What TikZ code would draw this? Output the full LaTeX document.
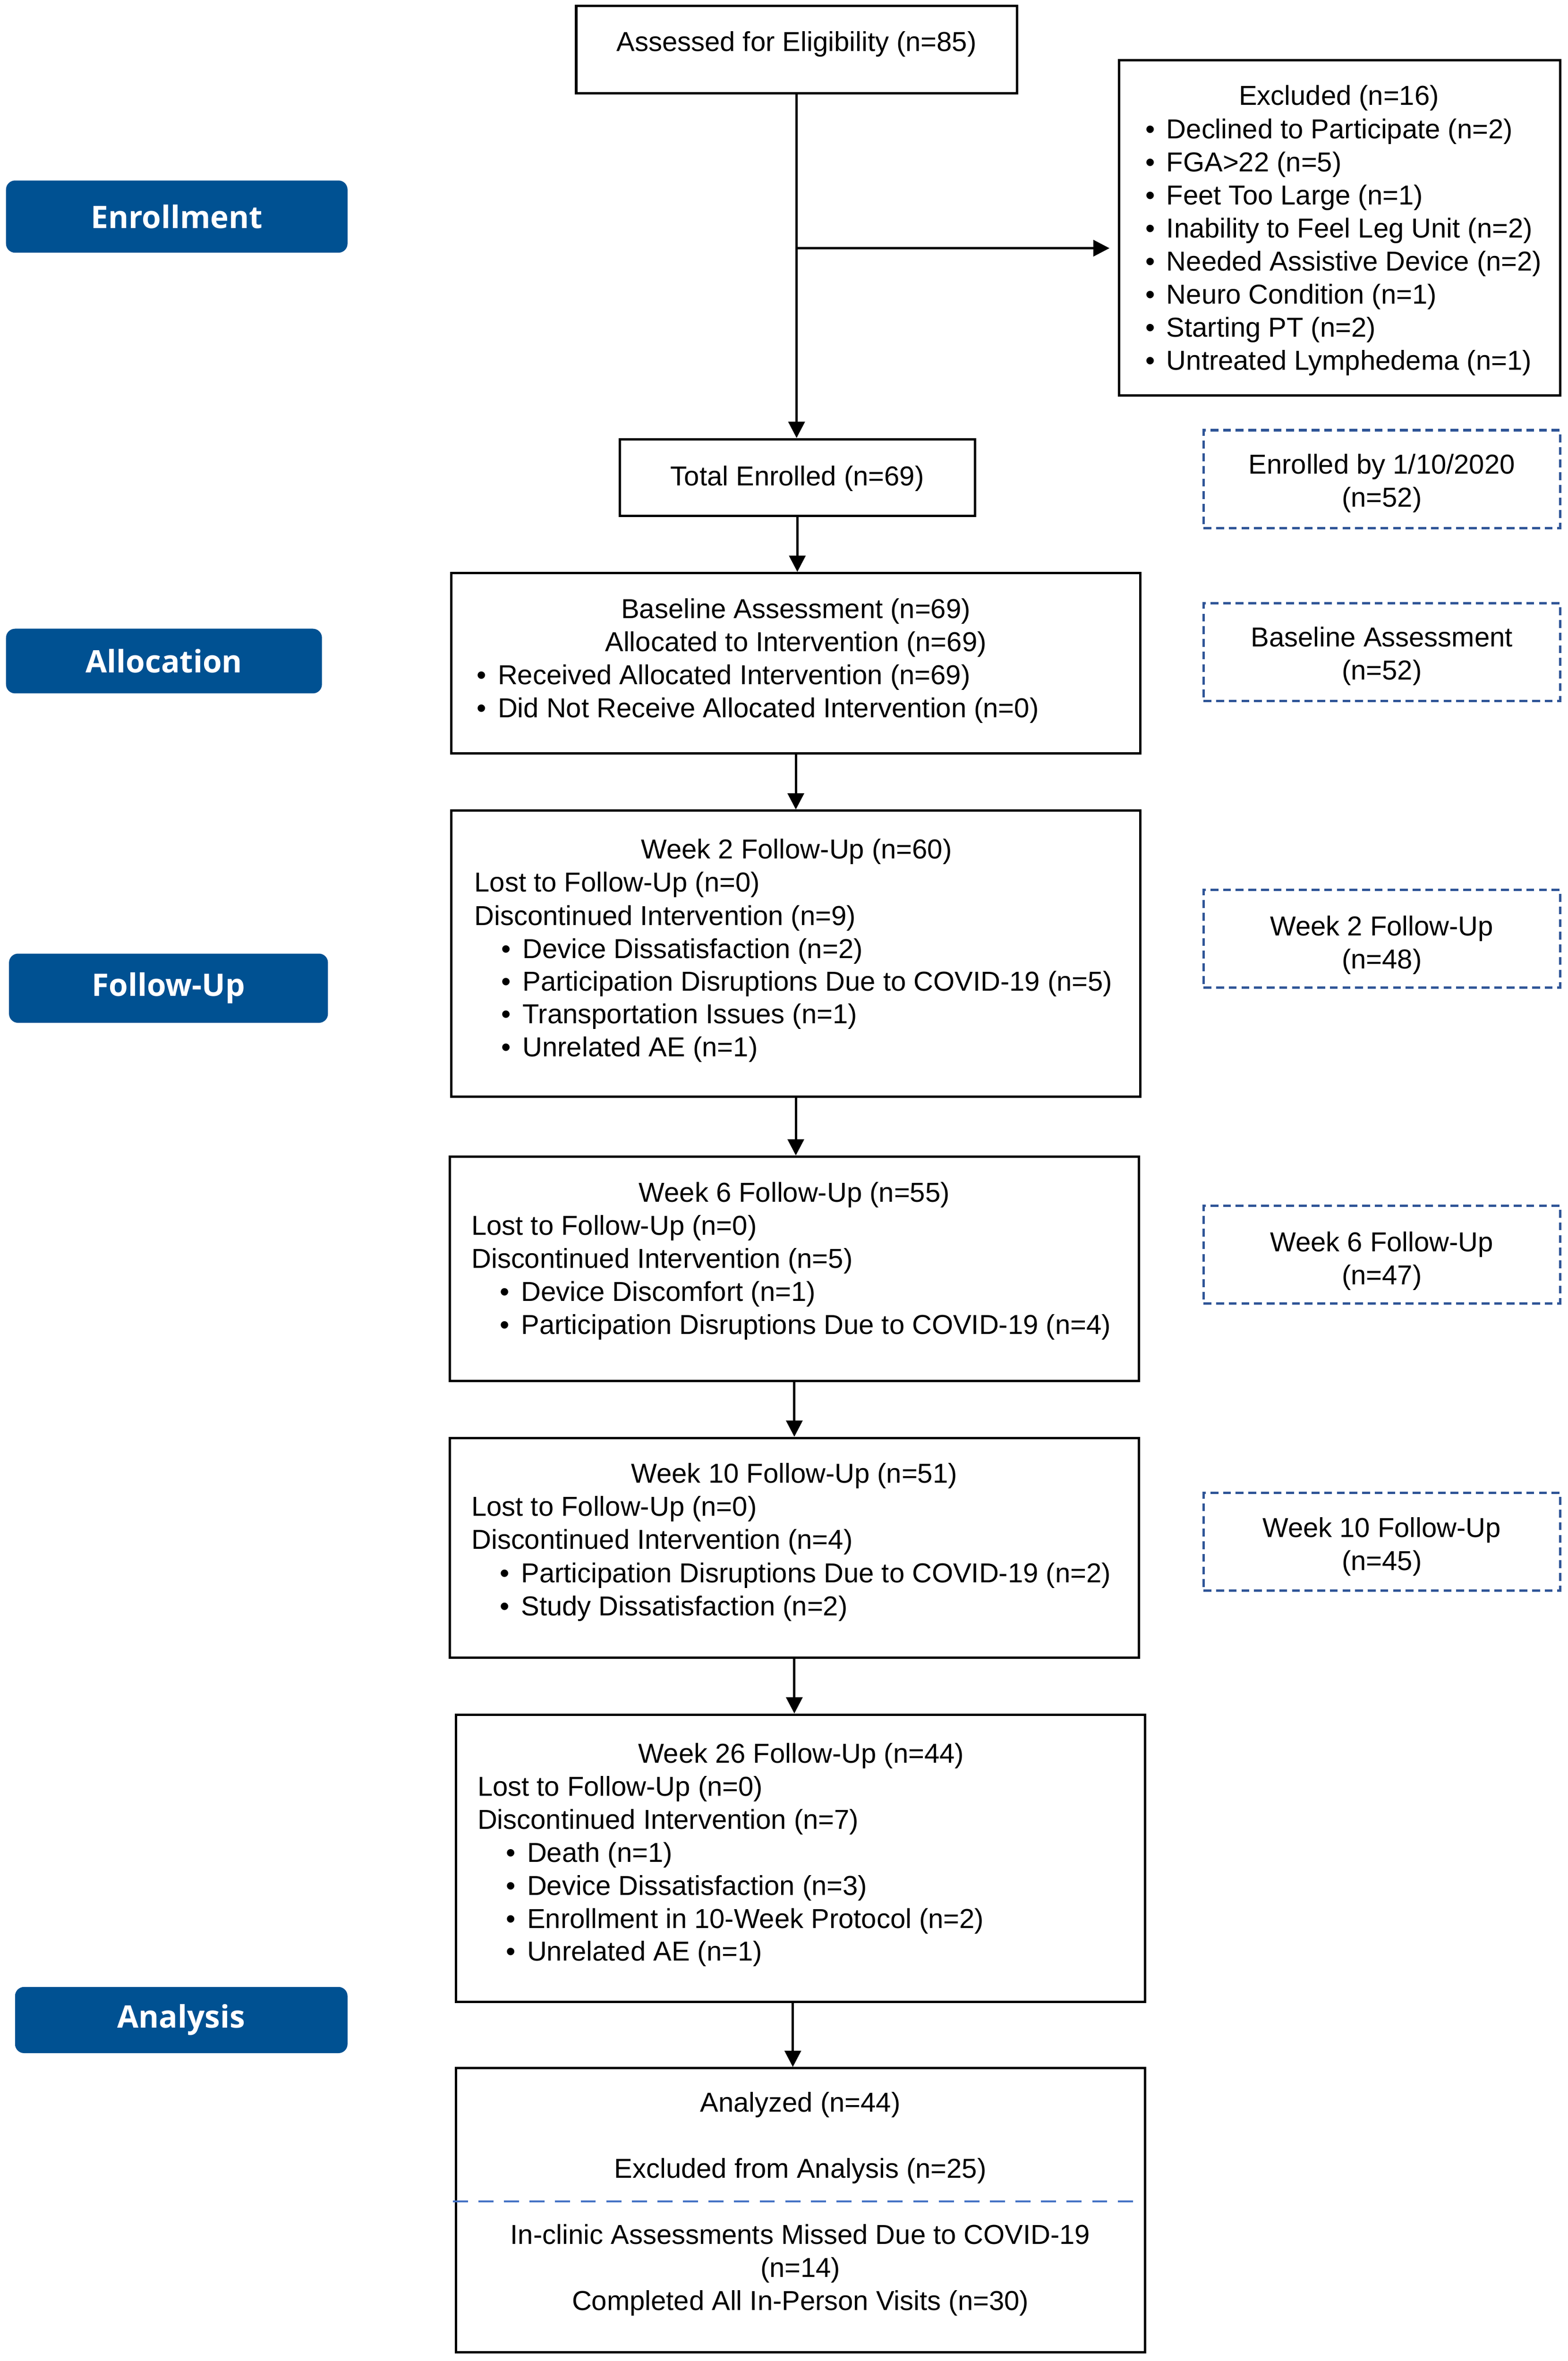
\documentclass[tikz,border=0pt]{standalone}
\usepackage{fontspec}
\setmainfont{Liberation Sans}
\newfontfamily\labfont{Open Sans}
\usetikzlibrary{arrows.meta}
\definecolor{labblue}{RGB}{0,81,146}
\definecolor{dashblue}{RGB}{47,85,151}
\definecolor{divblue}{RGB}{68,114,196}
\newcommand\bul{\makebox[7pt][l]{\textbullet}}
\begin{document}
\begin{tikzpicture}[x=0.5pt,y=-0.5pt,
  box/.style={draw=black, line width=0.8pt, inner sep=0pt},
  dbox/.style={draw=dashblue, line width=0.8pt, dash pattern=on 2.6pt off 1.6pt, inner sep=0pt, minimum width=118.5pt, minimum height=32.5pt},
  lab/.style={fill=labblue, rounded corners=3pt, text=white, font=\labfont\bfseries\fontsize{10.3}{12}\selectfont, inner sep=0pt},
  txt/.style={font=\fontsize{9.1}{11}\selectfont, inner sep=0pt},
  arr/.style={line width=0.8pt, -{Triangle[length=5.4pt,width=5.4pt]}}]

\fill[white] (0,0) rectangle (1042,1569.7);
\useasboundingbox (0,0) rectangle (1042,1569.7);

% side labels
\node[lab, minimum width=113.5pt, minimum height=24pt] (Lenr) at (117.5,144) {Enrollment};
\node[lab, minimum width=105pt, minimum height=21.5pt] (Lall) at (109,439.5) {Allocation};
\node[lab, minimum width=106pt, minimum height=23pt] (Lfol) at (112,657) {Follow-Up};
\node[lab, minimum width=110.5pt, minimum height=22pt] (Lana) at (120.5,1343) {Analysis};

% main boxes
\node[box, minimum width=146.5pt, minimum height=29pt] (assess) at (529.5,33) {};
\node[box, minimum width=146.5pt, minimum height=111.5pt] (excl) at (890.5,151.5) {};
\node[box, minimum width=118pt, minimum height=25.5pt] (total) at (530,317.5) {};
\node[box, minimum width=229pt, minimum height=60pt] (base) at (529,441) {};
\node[box, minimum width=229pt, minimum height=95pt] (w2) at (529,634) {};
\node[box, minimum width=229pt, minimum height=74.5pt] (w6) at (528,843.5) {};
\node[box, minimum width=229pt, minimum height=73pt] (w10) at (528,1029) {};
\node[box, minimum width=229pt, minimum height=95.5pt] (w26) at (532,1235.5) {};
\node[box, minimum width=229pt, minimum height=94.5pt] (anal) at (532,1469.5) {};

% dashed side boxes
\node[dbox] (d1) at (918.5,318.5) {};
\node[dbox] (d2) at (918.5,433.5) {};
\node[dbox] (d3) at (918.5,624) {};
\node[dbox] (d4) at (918.5,834) {};
\node[dbox] (d5) at (918.5,1025) {};

% texts
\node[txt, anchor=base] (tassess) at (529.5,34) {Assessed for Eligibility (n=85)};
\node[txt, anchor=base] (texh) at (890,70) {Excluded (n=16)};
\foreach \t [count=\i from 0] in {Declined to Participate (n=2), FGA>22 (n=5), Feet Too Large (n=1), Inability to Feel Leg Unit (n=2), Needed Assistive Device (n=2), Neuro Condition (n=1), Starting PT (n=2), Untreated Lymphedema (n=1)}
  \node[txt, anchor=base west] (tex\i) at (761,92+22*\i) {\bul\t};
\node[txt, anchor=base] (ttotal) at (530,323) {Total Enrolled (n=69)};

\node[txt, anchor=base] (tb1) at (529,411) {Baseline Assessment (n=69)};
\node[txt, anchor=base] (tb2) at (529,433) {Allocated to Intervention (n=69)};
\node[txt, anchor=base west] (tb3) at (316.5,455) {\bul Received Allocated Intervention (n=69)};
\node[txt, anchor=base west] (tb4) at (316.5,477) {\bul Did Not Receive Allocated Intervention (n=0)};

\node[txt, anchor=base] (tw2h) at (529.5,571) {Week 2 Follow-Up (n=60)};
\node[txt, anchor=base west] (tw2a) at (315,593) {Lost to Follow-Up (n=0)};
\node[txt, anchor=base west] (tw2b) at (315,615) {Discontinued Intervention (n=9)};
\foreach \t [count=\i from 0] in {Device Dissatisfaction (n=2), Participation Disruptions Due to COVID-19 (n=5), Transportation Issues (n=1), Unrelated AE (n=1)}
  \node[txt, anchor=base west] (tw2\i) at (333,637+21.8*\i) {\bul\t};

\node[txt, anchor=base] (tw6h) at (528,799) {Week 6 Follow-Up (n=55)};
\node[txt, anchor=base west] (tw6a) at (313,821) {Lost to Follow-Up (n=0)};
\node[txt, anchor=base west] (tw6b) at (313,843) {Discontinued Intervention (n=5)};
\foreach \t [count=\i from 0] in {Device Discomfort (n=1), Participation Disruptions Due to COVID-19 (n=4)}
  \node[txt, anchor=base west] (tw6\i) at (332,865+22*\i) {\bul\t};

\node[txt, anchor=base] (tw10h) at (528,986) {Week 10 Follow-Up (n=51)};
\node[txt, anchor=base west] (tw10a) at (313,1008) {Lost to Follow-Up (n=0)};
\node[txt, anchor=base west] (tw10b) at (313,1030) {Discontinued Intervention (n=4)};
\foreach \t [count=\i from 0] in {Participation Disruptions Due to COVID-19 (n=2), Study Dissatisfaction (n=2)}
  \node[txt, anchor=base west] (tw10\i) at (332,1052+22*\i) {\bul\t};

\node[txt, anchor=base] (tw26h) at (532.5,1172) {Week 26 Follow-Up (n=44)};
\node[txt, anchor=base west] (tw26a) at (317,1194) {Lost to Follow-Up (n=0)};
\node[txt, anchor=base west] (tw26b) at (317,1216) {Discontinued Intervention (n=7)};
\foreach \t [count=\i from 0] in {Death (n=1), Device Dissatisfaction (n=3), Enrollment in 10-Week Protocol (n=2), Unrelated AE (n=1)}
  \node[txt, anchor=base west] (tw26\i) at (336,1238+21.9*\i) {\bul\t};

\node[txt, anchor=base] (ta1) at (532,1404) {Analyzed (n=44)};
\node[txt, anchor=base] (ta2) at (532,1448) {Excluded from Analysis (n=25)};
\node[txt, anchor=base] (ta3) at (532,1492) {In-clinic Assessments Missed Due to COVID-19};
\node[txt, anchor=base] (ta4) at (532,1514) {(n=14)};
\node[txt, anchor=base] (ta5) at (532,1536) {Completed All In-Person Visits (n=30)};

\node[txt, anchor=base] (td1a) at (918.5,315) {Enrolled by 1/10/2020};
\node[txt, anchor=base] (td1b) at (918.5,337) {(n=52)};
\node[txt, anchor=base] (td2a) at (918.5,430) {Baseline Assessment};
\node[txt, anchor=base] (td2b) at (918.5,452) {(n=52)};
\node[txt, anchor=base] (td3a) at (918.5,622) {Week 2 Follow-Up};
\node[txt, anchor=base] (td3b) at (918.5,644) {(n=48)};
\node[txt, anchor=base] (td4a) at (918.5,832) {Week 6 Follow-Up};
\node[txt, anchor=base] (td4b) at (918.5,854) {(n=47)};
\node[txt, anchor=base] (td5a) at (918.5,1022) {Week 10 Follow-Up};
\node[txt, anchor=base] (td5b) at (918.5,1044) {(n=45)};

% divider in analysis box
\coordinate (dvl) at (301,1463.5);
\coordinate (dvr) at (758,1463.5);
\draw[divblue, line width=0.6pt, dash pattern=on 5pt off 3.5pt] (dvl) -- (dvr);

% connectors
\coordinate (bk) at (529.5,165);
\coordinate (ek) at (737.5,165);
\coordinate (c5) at (527,0);
\draw[arr] (assess.south) -- (assess.south |- total.north);
\draw[arr] (bk) -- (ek);
\draw[arr] (total.south) -- (total.south |- base.north);
\draw[arr] (base.south) -- (base.south |- w2.north);
\draw[arr] (w2.south) -- (w2.south |- w6.north);
\draw[arr] (w6.south) -- (w6.south |- w10.north);
\draw[arr] (w10.south) -- (w10.south |- w26.north);
\draw[arr] (w26.south -| c5) -- (anal.north -| c5);
\end{tikzpicture}
\end{document}
